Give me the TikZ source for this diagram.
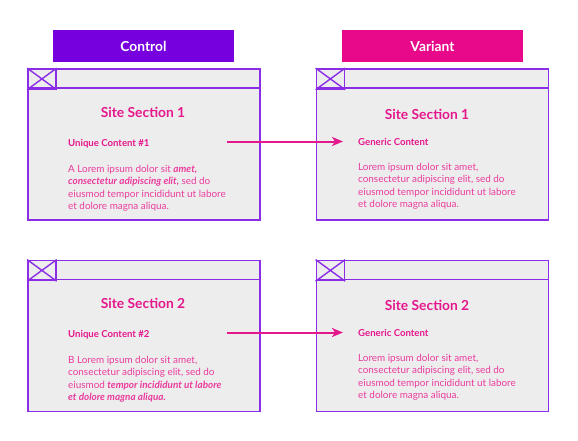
\documentclass[tikz,border=0pt]{standalone}
\usepackage{fontspec}
\setmainfont{Lato}
\usetikzlibrary{arrows.meta,positioning,calc}
\definecolor{ctrl}{HTML}{7600DE}
\definecolor{vari}{HTML}{E8088A}
\definecolor{frame}{HTML}{8B2DE6}
\definecolor{paper}{HTML}{EEEDEE}
\definecolor{ink}{HTML}{E5178C}
\definecolor{ink2}{HTML}{EA3C9C}
\tikzset{
  tag/.style={fill=#1, minimum width=181pt, minimum height=32pt, inner sep=0pt, text=white, font=\fontsize{13.8}{16}\selectfont\bfseries},
  win/.style={draw=frame, fill=paper, line width=1.8pt, minimum width=232pt, minimum height=151pt, inner sep=0pt},
  xbox/.style={draw=frame, line width=1.6pt, minimum width=28pt, minimum height=20pt, inner sep=0pt, anchor=north west},
  head/.style={text=ink, font=\fontsize{13.8}{16}\selectfont\bfseries, inner sep=0pt},
  sub/.style={text=ink, font=\fontsize{9.6}{11}\selectfont\bfseries, inner sep=0pt, anchor=west},
  body/.style={text=ink2, font=\fontsize{9.9}{12.4}\selectfont, inner sep=0pt, anchor=north west, align=left},
  link/.style={-{Stealth[length=11pt,width=9pt,inset=3pt]}, line width=2pt, draw=ink},
}

\begin{document}
\begin{tikzpicture}[x=1pt,y=-1pt]
  \useasboundingbox (0,0) rectangle (578,440);
  % column headers
  \node[tag=ctrl] (hc) at (143.5,46) {Control};
  \node[tag=vari] (hv) at (432.5,46) {Variant};
  % browser windows
  \foreach \n/\x/\y in {w1/144/144.5, w2/432.5/144.5, w3/144/336, w4/432.5/336} {
    \node[win] (\n) at (\x,\y) {};
    \draw[frame, line width=1.6pt] ($(\n.north west)+(0,20)$) -- ($(\n.north east)+(0,20)$);
    \node[xbox] (\n x) at (\n.north west) {};
    \draw[frame, line width=1.4pt] (\n x.north west) -- (\n x.south east) (\n x.south west) -- (\n x.north east);
  }
  % control texts
  \node[head] (t1) at (143,112) {Site Section 1};
  \node[sub] (u1) at (68,143.5) {Unique Content \#1};
  \node[body] (b1) at (68,165) {A Lorem ipsum dolor sit \textit{\textbf{amet,}}\\ \textit{\textbf{consectetur adipiscing elit,}} sed do\\ eiusmod tempor incididunt ut labore\\ et dolore magna aliqua.};
  \node[head] (t3) at (143,303) {Site Section 2};
  \node[sub] (u3) at (68,335) {Unique Content \#2};
  \node[body] (b3) at (68,356) {B Lorem ipsum dolor sit amet,\\ consectetur adipiscing elit, sed do\\ eiusmod \textit{\textbf{tempor incididunt ut labore}}\\ \textit{\textbf{et dolore magna aliqua.}}};
  % variant texts
  \node[head] (t2) at (427,114) {Site Section 1};
  \node[sub] (g2) at (358,141.5) {Generic Content};
  \node[body] (b2) at (358,163) {Lorem ipsum dolor sit amet,\\ consectetur adipiscing elit, sed do\\ eiusmod tempor incididunt ut labore\\ et dolore magna aliqua.};
  \node[head] (t4) at (427,305) {Site Section 2};
  \node[sub] (g4) at (358,332.5) {Generic Content};
  \node[body] (b4) at (358,354) {Lorem ipsum dolor sit amet,\\ consectetur adipiscing elit, sed do\\ eiusmod tempor incididunt ut labore\\ et dolore magna aliqua.};
  % arrows
  \coordinate (s1) at (227,141.5);
  \coordinate (s3) at (227,332.5);
  \draw[link, shorten >=15pt] (s1) -- (g2.west);
  \draw[link, shorten >=15pt] (s3) -- (g4.west);
\end{tikzpicture}
\end{document}
